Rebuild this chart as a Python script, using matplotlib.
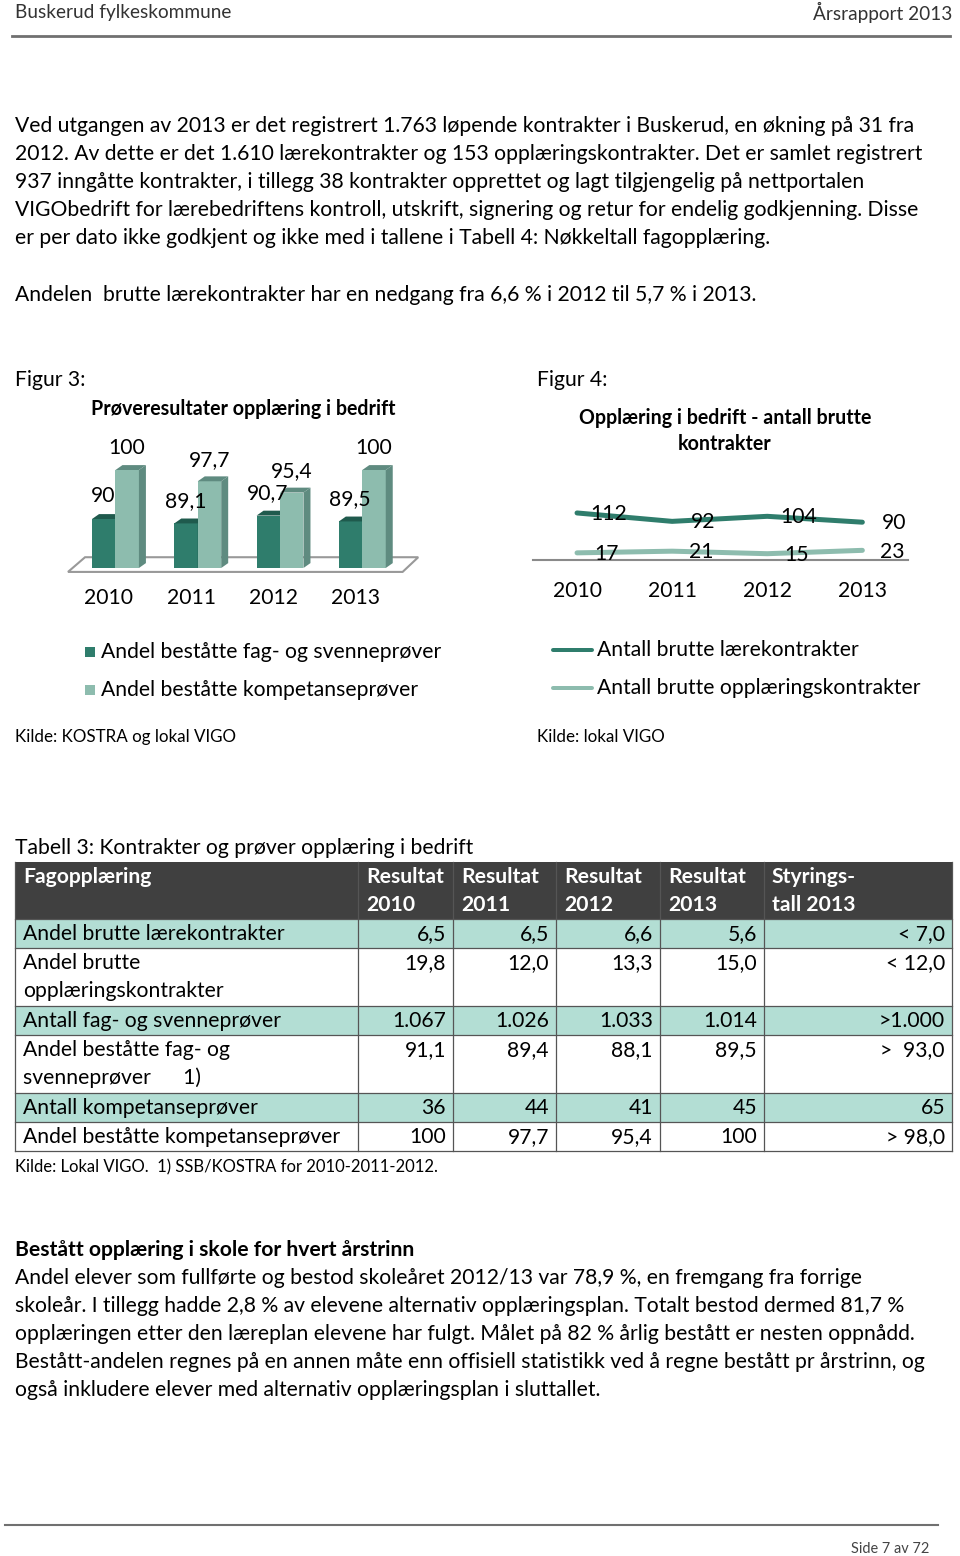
import matplotlib
matplotlib.use("Agg")
import matplotlib.pyplot as plt
from matplotlib.patches import Polygon, Rectangle
from matplotlib.lines import Line2D

plt.rcParams['font.family'] = ['Lato', 'DejaVu Sans']

W, H = 960, 1556
PX = 72 / 100  # points per pixel at dpi 100

# ---- data ----
years = ['2010', '2011', '2012', '2013']
fag_bestatt = [90, 89.1, 90.7, 89.5]
komp_bestatt = [100, 97.7, 95.4, 100]
fig3_labels = ['Andel beståtte fag- og svenneprøver', 'Andel beståtte kompetanseprøver']

brutte_laere = [112, 92, 104, 90]
brutte_oppl = [17, 21, 15, 23]
fig4_labels = ['Antall brutte lærekontrakter', 'Antall brutte opplæringskontrakter']

table_cols = ['Fagopplæring', 'Resultat\n2010', 'Resultat\n2011', 'Resultat\n2012',
              'Resultat\n2013', 'Styrings-\ntall 2013']
table_rows = ['Andel brutte lærekontrakter', 'Andel brutte\nopplæringskontrakter',
              'Antall fag- og svenneprøver', 'Andel beståtte fag- og\nsvenneprøver      1)',
              'Antall kompetanseprøver', 'Andel beståtte kompetanseprøver']
table_vals = [['6,5', '6,5', '6,6', '5,6', '< 7,0'],
              ['19,8', '12,0', '13,3', '15,0', '< 12,0'],
              ['1.067', '1.026', '1.033', '1.014', '>1.000'],
              ['91,1', '89,4', '88,1', '89,5', '>  93,0'],
              ['36', '44', '41', '45', '65'],
              ['100', '97,7', '95,4', '100', '> 98,0']]

para1 = ["Ved utgangen av 2013 er det registrert 1.763 løpende kontrakter i Buskerud, en økning på 31 fra",
         "2012. Av dette er det 1.610 lærekontrakter og 153 opplæringskontrakter. Det er samlet registrert",
         "937 inngåtte kontrakter, i tillegg 38 kontrakter opprettet og lagt tilgjengelig på nettportalen",
         "VIGObedrift for lærebedriftens kontroll, utskrift, signering og retur for endelig godkjenning. Disse",
         "er per dato ikke godkjent og ikke med i tallene i Tabell 4: Nøkkeltall fagopplæring."]
para2 = "Andelen  brutte lærekontrakter har en nedgang fra 6,6 % i 2012 til 5,7 % i 2013."
para3 = ["Andel elever som fullførte og bestod skoleåret 2012/13 var 78,9 %, en fremgang fra forrige",
         "skoleår. I tillegg hadde 2,8 % av elevene alternativ opplæringsplan. Totalt bestod dermed 81,7 %",
         "opplæringen etter den læreplan elevene har fulgt. Målet på 82 % årlig bestått er nesten oppnådd.",
         "Bestått-andelen regnes på en annen måte enn offisiell statistikk ved å regne bestått pr årstrinn, og",
         "også inkludere elever med alternativ opplæringsplan i sluttallet."]

dark = '#2f7d6c'
light = '#8dbcae'
dark_side = '#1f5a4d'
light_side = '#5f8b80'
teal_row = '#b3ded4'
head_bg = '#404040'

BODY = 21.2 * PX
SMALL = 17 * PX
TITLE = 19.7 * PX

fig = plt.figure(figsize=(W / 100, H / 100), dpi=100)
page = fig.add_axes([0, 0, 1, 1])
page.set_xlim(0, W)
page.set_ylim(H, 0)
page.axis('off')


def txt(x, y, s, size=BODY, **kw):
    page.text(x, y, s, fontsize=size, va='center', **kw)


# header / footer
txt(15, 12, 'Buskerud fylkeskommune', size=19 * PX, color='#333333')
txt(952, 12, 'Årsrapport 2013', size=19 * PX, color='#333333', ha='right')
page.plot([12, 950], [36, 36], color='#707070', lw=2)
page.plot([5, 938], [1525, 1525], color='#707070', lw=1.5)
txt(929, 1549, 'Side 7 av 72', size=14.5 * PX, color='#444444', ha='right')

for i, line in enumerate(para1):
    txt(15, 126 + 28 * i, line)
txt(15, 295, para2)

txt(15, 380, 'Figur 3:')
txt(537, 380, 'Figur 4:')
txt(15, 737, 'Kilde: KOSTRA og lokal VIGO', size=SMALL)
txt(537, 737, 'Kilde: lokal VIGO', size=SMALL)

# ---- Figur 3: pseudo 3D bars ----
ax1 = fig.add_axes([62 / W, 1 - 577.8 / H, 362 / W, 147 / H])
ax1.set_xlim(-0.65, 3.75)
ax1.set_ylim(78, 108)
ax1.axis('off')
base = 80
bw = 0.285
dx, dy = 0.085, 1.0
floor = Polygon([(-0.577, 79.2), (3.49, 79.2), (3.68, 82.2), (-0.37, 82.2)],
                closed=True, facecolor='white', edgecolor='#999999', lw=1.5, zorder=1)
ax1.add_patch(floor)
for i in range(len(years)):
    for vals, off, fc, sc in [(fag_bestatt, -bw, dark, dark_side), (komp_bestatt, 0, light, light_side)]:
        v = vals[i]
        x0 = i + off
        x1 = x0 + bw
        ax1.bar(x0, v - base, width=bw, bottom=base, align='edge', color=fc, zorder=3)
        ax1.add_patch(Polygon([(x1, base), (x1 + dx, base + dy), (x1 + dx, v + dy), (x1, v)],
                              closed=True, facecolor=sc, edgecolor='none', zorder=3))
        ax1.add_patch(Polygon([(x0, v), (x1, v), (x1 + dx, v + dy), (x0 + dx, v + dy)],
                              closed=True, facecolor=sc, edgecolor='none', zorder=3))
    ax1.text(i - 0.15, fag_bestatt[i] + 4.6, f'{fag_bestatt[i]:g}'.replace('.', ','),
             ha='center', va='center', fontsize=BODY, zorder=5)
    ax1.text(i + 0.14, komp_bestatt[i] + 4.4, f'{komp_bestatt[i]:g}'.replace('.', ','),
             ha='center', va='center', fontsize=BODY, zorder=5)
    ax1.text(i - 0.08, 73.9, years[i], ha='center', va='center', fontsize=BODY, clip_on=False)
txt(243, 409, 'Prøveresultater opplæring i bedrift', size=TITLE, weight='bold', ha='center')

for j, (lab, c) in enumerate(zip(fig3_labels, [dark, light])):
    y = 652 + 38 * j
    page.add_patch(Rectangle((85, y - 5), 10, 10, facecolor=c, edgecolor='none'))
    txt(101, y, lab)

# ---- Figur 4: lines ----
ax2 = fig.add_axes([533 / W, 1 - 560 / H, 375 / W, 84 / H])
xs = list(range(len(years)))
ax2.plot(xs, brutte_laere, color=dark, lw=5 * PX, solid_capstyle='round')
ax2.plot(xs, brutte_oppl, color=light, lw=5 * PX, solid_capstyle='round')
ax2.set_xlim(-0.463, 3.48)
ax2.set_ylim(0, 200)
for s in ['top', 'left', 'right']:
    ax2.spines[s].set_visible(False)
ax2.spines['bottom'].set_color('#8a8a8a')
ax2.spines['bottom'].set_linewidth(1.5)
ax2.set_yticks([])
ax2.set_xticks(xs)
ax2.set_xticklabels(years, fontsize=BODY)
ax2.tick_params(axis='x', length=0, pad=15)
ax2.patch.set_alpha(0)
for i in xs:
    ax2.text(i + 0.33, brutte_laere[i] - 2, str(brutte_laere[i]), ha='center', va='center', fontsize=BODY)
    ax2.text(i + 0.31, brutte_oppl[i] - 3, str(brutte_oppl[i]), ha='center', va='center', fontsize=BODY)
txt(725, 418, 'Opplæring i bedrift - antall brutte', size=TITLE, weight='bold', ha='center')
txt(725, 444, 'kontrakter', size=TITLE, weight='bold', ha='center')

for j, (lab, c) in enumerate(zip(fig4_labels, [dark, light])):
    y = 650 + 38 * j
    page.add_line(Line2D([553, 592], [y, y], color=c, lw=4 * PX, solid_capstyle='round'))
    txt(597, y, lab)

# ---- Tabell 3 ----
txt(15, 848, 'Tabell 3: Kontrakter og prøver opplæring i bedrift')
col_x = [15, 358, 453, 556, 660, 764, 952]
row_y = [862, 919, 948, 1006, 1035, 1093, 1122, 1151]
page.add_patch(Rectangle((col_x[0], row_y[0]), col_x[-1] - col_x[0], row_y[1] - row_y[0],
                         facecolor=head_bg, edgecolor='none'))
for c, lab in enumerate(table_cols):
    for k, part in enumerate(lab.split('\n')):
        txt(col_x[c] + 8, row_y[0] + 15 + 28 * k, part, color='white', weight='bold')
for r, lab in enumerate(table_rows):
    top, bot = row_y[r + 1], row_y[r + 2]
    if r % 2 == 0:
        page.add_patch(Rectangle((col_x[0], top), col_x[-1] - col_x[0], bot - top,
                                 facecolor=teal_row, edgecolor='none'))
    for k, part in enumerate(lab.split('\n')):
        txt(col_x[0] + 8, top + 15 + 28 * k, part)
    for c, v in enumerate(table_vals[r]):
        txt(col_x[c + 2] - 7, top + 15, v, ha='right')
# grid lines
for y in row_y[1:]:
    page.plot([col_x[0], col_x[-1]], [y, y], color='#555555', lw=0.9)
for x in col_x:
    page.plot([x, x], [row_y[0], row_y[-1]], color='#555555', lw=0.9)
txt(15, 1167, 'Kilde: Lokal VIGO.  1) SSB/KOSTRA for 2010-2011-2012.', size=16.6 * PX)

txt(15, 1250, 'Bestått opplæring i skole for hvert årstrinn', weight='bold')
for i, line in enumerate(para3):
    txt(15, 1278 + 28 * i, line)

fig.savefig('out.png', dpi=100)
